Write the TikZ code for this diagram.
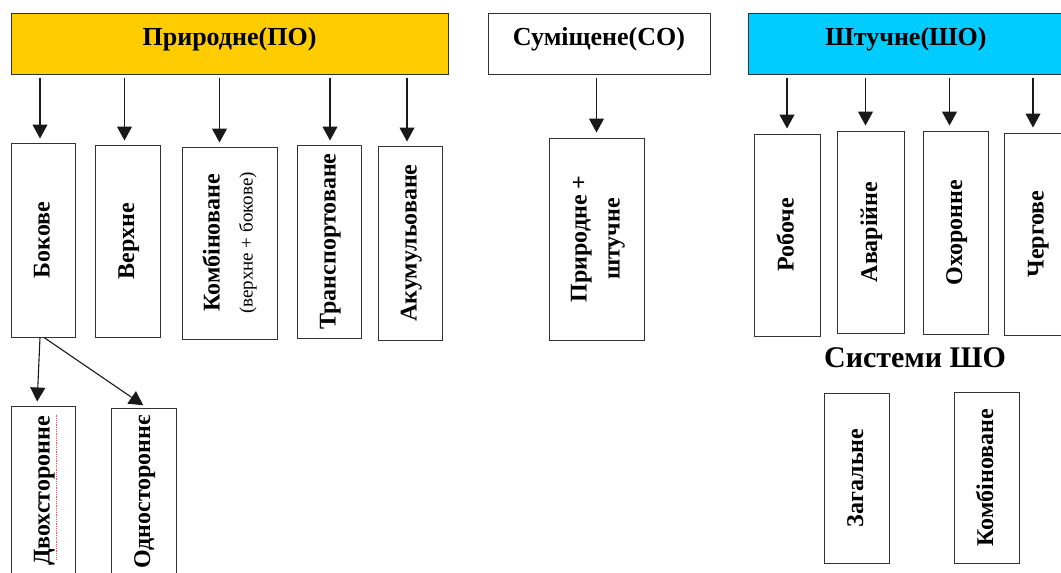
\documentclass[tikz,border=0pt]{standalone}
\usepackage{fontspec}
\setmainfont{Liberation Serif}
\usepackage{graphicx}
\usetikzlibrary{arrows.meta}

\definecolor{poyellow}{HTML}{FFCC00}
\definecolor{shoblue}{HTML}{00CCFF}
\newcommand{\vtext}[1]{\rotatebox{90}{\begin{tabular}{@{}c@{}}#1\end{tabular}}}

\begin{document}
\begin{tikzpicture}[x=1pt, y=-1pt, >={Triangle[width=15pt,length=14pt]},
    head/.style={draw=black!80, line width=1pt, minimum height=61pt,
        font=\fontsize{26}{30}\selectfont\bfseries, text height=19pt, text depth=16pt},
    vbox/.style={draw=black!80, line width=1pt, inner sep=0pt,
        font=\fontsize{24}{33}\selectfont\bfseries},
    arr/.style={->, draw=black!90, line width=1.1pt, shorten <=3pt, shorten >=4pt}]
    \useasboundingbox (0,0) rectangle (1061,573);

    % top row
    \node[head, fill=poyellow, minimum width=437pt] (po) at (229.5, 43.5) { Природне(ПО) };
    \node[head, fill=white, minimum width=222pt] (so) at (599, 44) { Суміщене(СО) };
    \node[head, fill=shoblue, minimum width=316pt] (sho) at (906, 43.5) { Штучне(ШО) };

    % natural
    \node[vbox, minimum width=64pt, minimum height=194pt] (bok) at (43, 240) { \vtext{Бокове} };
    \node[vbox, minimum width=65pt, minimum height=192pt] (verh) at (127.5, 241) { \vtext{Верхне} };
    \node[vbox, minimum width=95pt, minimum height=192pt] (komb) at (229.5, 243)
        { \vtext{Комбіноване\\{\mdseries\fontsize{19}{33}\selectfont(верхне + бокове)}} };
    \node[vbox, minimum width=64pt, minimum height=193pt] (trans) at (329, 241.5) { \vtext{Транспортоване} };
    \node[vbox, minimum width=64pt, minimum height=194pt] (akum) at (410, 243) { \vtext{Акумульоване} };

    \node[vbox, minimum width=64pt, minimum height=170pt] (dvo) at (43, 491) { \vtext{Двохсторонне} };
    \node[vbox, minimum width=65pt, minimum height=168pt] (odno) at (143.5, 492) { \vtext{Одностороннє} };
    \draw[red!70, densely dotted, line width=0.8pt] ([shift={(13,9)}]dvo.north) -- ([shift={(13,154)}]dvo.north);

    % combined
    \node[vbox, minimum width=95pt, minimum height=202pt] (pryr) at (596.5, 239) { \vtext{Природне +\\штучне} };

    % artificial
    \node[vbox, minimum width=66pt, minimum height=202pt] (rob) at (787, 235) { \vtext{Робоче} };
    \node[vbox, minimum width=67pt, minimum height=202pt] (avar) at (870.5, 232) { \vtext{Аварійне} };
    \node[vbox, minimum width=65pt, minimum height=203pt] (ohor) at (955.5, 232.5) { \vtext{Охоронне} };
    \node[vbox, minimum width=66pt, minimum height=202pt] (cherg) at (1037, 234) { \vtext{Чергове} };

    \node[font=\fontsize{30}{34}\selectfont\bfseries] (syst) at (915, 358) { Системи ШО };
    \node[vbox, minimum width=65pt, minimum height=170pt] (zag) at (856.5, 478) { \vtext{Загальне} };
    \node[vbox, minimum width=65pt, minimum height=171pt] (komb2) at (986.5, 477.5) { \vtext{Комбіноване} };

    \draw[arr] ([xshift=-3pt]po.south -| bok.north) -- ([xshift=-3pt]bok.north);
    \draw[arr] ([xshift=-3pt]po.south -| verh.north) -- ([xshift=-3pt]verh.north);
    \draw[arr] ([xshift=-10pt]po.south -| komb.north) -- ([xshift=-10pt]komb.north);
    \draw[arr] ([xshift=1pt]po.south -| trans.north) -- ([xshift=1pt]trans.north);
    \draw[arr] ([xshift=-3pt]po.south -| akum.north) -- ([xshift=-3pt]akum.north);

    \draw[arr, shorten <=0pt] ([xshift=-3pt]bok.south) -- ([xshift=-6pt]dvo.north);
    \draw[arr, shorten <=0pt] ([xshift=1pt]bok.south) -- ([xshift=3pt]odno.north);

    \draw[arr, shorten >=5pt] (so.south -| pryr.north) -- (pryr.north);

    \draw[arr, shorten >=5pt] (sho.south -| rob.north) -- (rob.north);
    \draw[arr, shorten >=5pt] ([xshift=-5pt]sho.south -| avar.north) -- ([xshift=-5pt]avar.north);
    \draw[arr, shorten >=5pt] ([xshift=-6pt]sho.south -| ohor.north) -- ([xshift=-6pt]ohor.north);
    \draw[arr, shorten >=5pt] ([xshift=-4pt]sho.south -| cherg.north) -- ([xshift=-4pt]cherg.north);
\end{tikzpicture}
\end{document}
